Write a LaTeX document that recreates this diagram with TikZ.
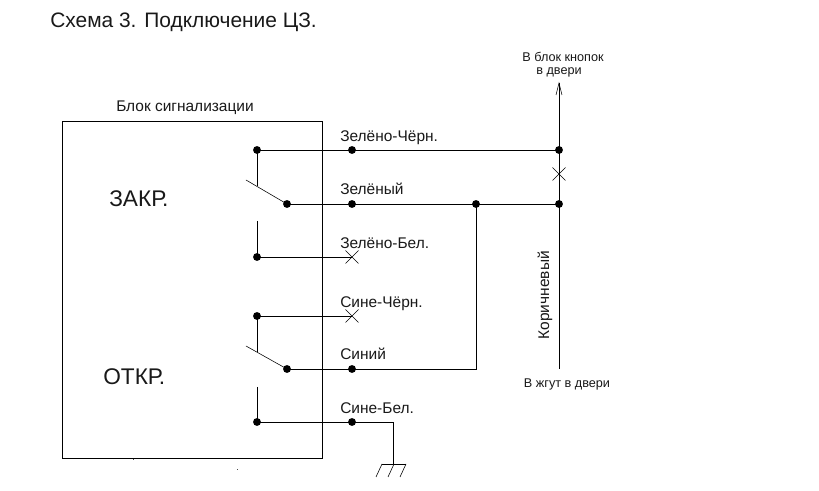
\documentclass[tikz,border=0pt]{standalone}
\usepackage{fontspec}
\setmainfont{Liberation Sans}
\tikzset{
 wire/.style={draw=black,line width=0.68pt},
 thin wire/.style={draw=black,line width=0.42pt},
 dot/.style={circle,fill=black,inner sep=0pt,minimum size=5.9pt},
 lab/.style={anchor=base west,inner sep=0pt,font=\fontsize{11.6pt}{13pt}\selectfont,text=black!90},
 small/.style={anchor=base,inner sep=0pt,font=\fontsize{9.5pt}{11pt}\selectfont,text=black!90},
 big/.style={anchor=base west,inner sep=0pt,font=\fontsize{17pt}{19pt}\selectfont,text=black!90}
}
\begin{document}
\begin{tikzpicture}[x=0.75pt,y=-0.75pt]
\useasboundingbox[fill=white] (0,0) rectangle (819,491);
% block
\node[draw=black,line width=0.62pt,anchor=north west,inner sep=0pt,minimum width=195pt,minimum height=252.75pt] (block) at (62,121) {};
% dots
\foreach \n/\x/\y in {a1/257/150,a2/352/150,a3/559/150,
  b1/287/204,b2/352/204,b3/476/204,b4/559/204,
  c1/257/257,
  d1/257/316,
  e1/287/369,e2/352/369,
  f1/257/422,f2/352/422}
  \node[dot] (\n) at (\x,\y) {};
% free coordinates
\coordinate (ax) at (257,186);
\coordinate (arm1) at (246,180);
\coordinate (c0) at (257,221);
\coordinate (cx) at (352,257);
\coordinate (dx) at (352,316);
\coordinate (dv) at (257,352);
\coordinate (arm2) at (246,346);
\coordinate (f0) at (257,387);
\coordinate (e3) at (476,369);
\coordinate (g1) at (393,422);
\coordinate (g2) at (393,464);
\coordinate (top) at (559,83);
\coordinate (bot) at (559,369);
\coordinate (tx) at (559,174);
% wires
\draw[wire] (a1.center) -- (a3.center);
\draw[wire] (a1.center) -- (ax);
\draw[thin wire] (arm1) -- (b1.center);
\draw[wire] (b1.center) -- (b4.center);
\draw[wire] (c0) -- (c1.center) -- (cx);
\draw[wire] (dv) -- (d1.center) -- (dx);
\draw[thin wire] (arm2) -- (e1.center);
\draw[wire] (e1.center) -- (e3) -- (b3.center);
\draw[wire] (f0) -- (f1.center) -- (g1) -- (g2);
\draw[wire] (bot) -- (top);
% arrow
\draw[thin wire] (556,95) -- (559,83) -- (562,95);
% crosses
\foreach \p in {cx,dx,tx}
  \draw[thin wire] ([shift={(-6.5,-6.5)}]\p) -- ([shift={(6.5,6.5)}]\p) ([shift={(-6.5,6.5)}]\p) -- ([shift={(6.5,-6.5)}]\p);
% ground
\draw[thin wire] (382,464) -- (406,464);
\foreach \x in {382,394,406}
  \draw[thin wire] (\x,464) -- (\x-6,477);
% specks
\fill[black!70] (133,459) rectangle (134,460);
\fill[black!70] (237,469) rectangle (238,470);
% labels
\node[anchor=base west,inner sep=0pt,font=\fontsize{15.7pt}{18pt}\selectfont,text=black!90] (title) at (50,28) {Схема 3. Подключение ЦЗ.};
\node[lab,anchor=base] (blockname) at (185,112) {Блок сигнализации};
\node[big] (zakr) at (109,206.5) {ЗАКР.};
\node[big] (otkr) at (103,384.5) {ОТКР.};
\node[lab] (l1) at (340,142) {Зелёно-Чёрн.};
\node[lab] (l2) at (340,195) {Зелёный};
\node[lab] (l3) at (340,248.5) {Зелёно-Бел.};
\node[lab] (l4) at (340,308) {Сине-Чёрн.};
\node[lab] (l5) at (340,360) {Синий};
\node[lab] (l6) at (340,413.5) {Сине-Бел.};
\node[small] (t1) at (563,62) {В блок кнопок};
\node[small] (t2) at (559,75) {в двери};
\node[small] (t3) at (567,388) {В жгут в двери};
\node[lab,anchor=base west,rotate=90] (kor) at (549,339.5) {Коричневый};
\end{tikzpicture}
\end{document}
